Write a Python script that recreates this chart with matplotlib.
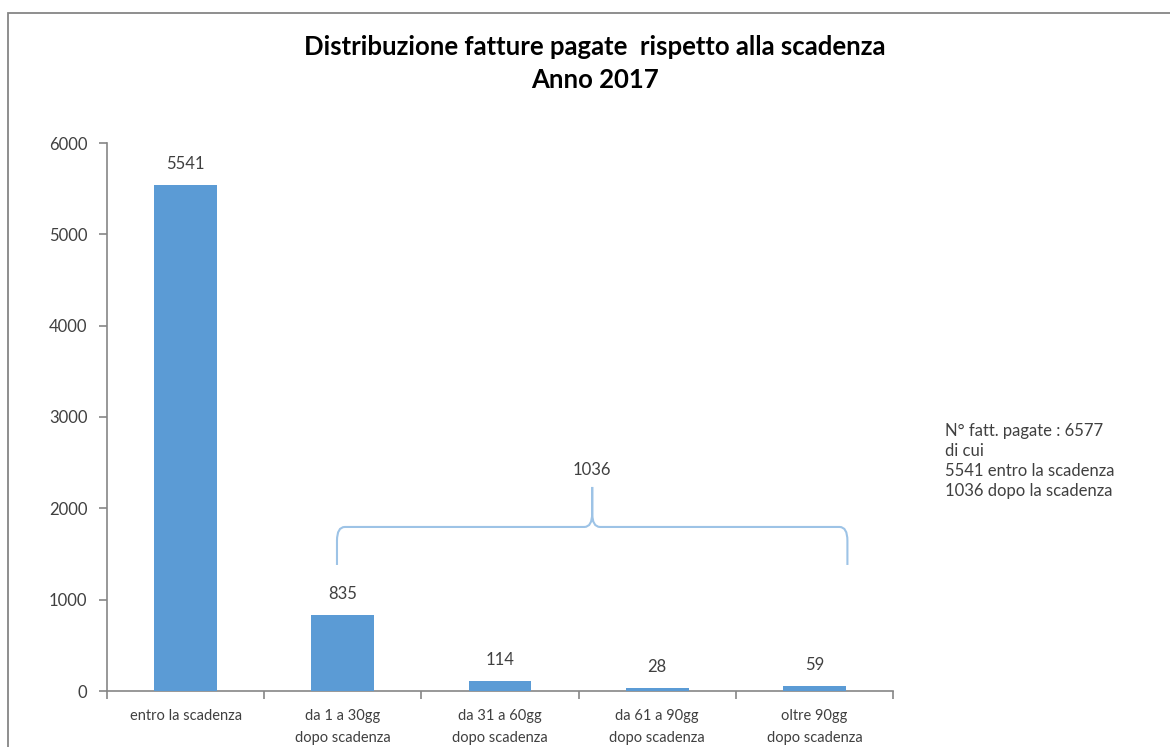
import matplotlib
matplotlib.use("Agg")
import matplotlib.pyplot as plt
import numpy as np
from matplotlib.path import Path
from matplotlib.patches import PathPatch, Rectangle

# data
categories = ['entro la scadenza', 'da 1 a 30gg\ndopo scadenza', 'da 31 a 60gg\ndopo scadenza',
              'da 61 a 90gg\ndopo scadenza', 'oltre 90gg\ndopo scadenza']
values = [5541, 835, 114, 28, 59]
late_total = 1036
note_lines = ['N° fatt. pagate : 6577', 'di cui', '5541 entro la scadenza', '1036 dopo la scadenza']

plt.rcParams['font.family'] = ['Lato', 'DejaVu Sans']
TXT = '#404040'
BAR = '#5B9BD5'
BRACE = '#9DC3E6'
GRID = '#868686'

fig = plt.figure(figsize=(11.7, 7.47), dpi=100)

# outer chart border (cut by the image edges)
fig.patches.append(Rectangle((8 / 1170, -0.1), 1.2, 1 - 13 / 747 + 0.1,
                             transform=fig.transFigure, fill=False,
                             edgecolor=GRID, linewidth=1.3))

ax = fig.add_axes([107 / 1170, 1 - 691 / 747, (893 - 107) / 1170, (691 - 143) / 747])
x = np.arange(len(values))
ax.bar(x, values, width=0.4, color=BAR, zorder=3)

ax.set_xlim(-0.5, len(values) - 0.5)
ax.set_ylim(0, 6000)
ax.set_yticks(np.arange(0, 6001, 1000))
ax.set_xticks(x)
ax.set_xticklabels(categories, fontsize=10.5, color=TXT, linespacing=1.75)
ax.set_xticks(np.arange(-0.5, len(values)), minor=True)
ax.tick_params(axis='x', which='major', length=0, pad=13)
ax.tick_params(axis='x', which='minor', length=6, color=GRID, width=1.2)
ax.tick_params(axis='y', length=6, color=GRID, width=1.2, labelsize=12, labelcolor=TXT, pad=8)

for s in ['top', 'right']:
    ax.spines[s].set_visible(False)
for s in ['left', 'bottom']:
    ax.spines[s].set_color(GRID)
    ax.spines[s].set_linewidth(1.2)

for xi, v in zip(x, values):
    ax.text(xi, v + 230, str(v), ha='center', va='center', fontsize=12, color=TXT)

# curly brace over the late-payment bars
x0, x1 = 0.963, 4.21
xm = (x0 + x1) / 2
yb, yh, yt = 1380, 1796, 2234
dx, dy = 0.05, 150
verts = [(x0, yb), (x0, yh - dy), (x0, yh), (x0 + dx, yh),
         (xm - dx, yh), (xm, yh), (xm, yh + dy), (xm, yt),
         (xm, yh + dy), (xm, yh), (xm + dx, yh),
         (x1 - dx, yh), (x1, yh), (x1, yh - dy), (x1, yb)]
codes = [Path.MOVETO, Path.LINETO, Path.CURVE3, Path.CURVE3,
         Path.LINETO, Path.CURVE3, Path.CURVE3, Path.LINETO,
         Path.LINETO, Path.CURVE3, Path.CURVE3,
         Path.LINETO, Path.CURVE3, Path.CURVE3, Path.LINETO]
ax.add_patch(PathPatch(Path(verts, codes), fill=False, edgecolor=BRACE, linewidth=1.5,
                       clip_on=False, zorder=4))
ax.text(xm, 2420, str(late_total), ha='center', va='center', fontsize=12, color=TXT)

fig.text(595 / 1170, 1 - 47 / 747, 'Distribuzione fatture pagate  rispetto alla scadenza',
         ha='center', va='center', fontsize=18.5, fontweight='bold', color='black')
fig.text(595 / 1170, 1 - 80 / 747, 'Anno 2017',
         ha='center', va='center', fontsize=18.5, fontweight='bold', color='black')

fig.text(945 / 1170, 1 - 423 / 747, '\n'.join(note_lines), ha='left', va='top',
         fontsize=12, color=TXT, linespacing=1.3)

fig.savefig('out.png', dpi=100)
